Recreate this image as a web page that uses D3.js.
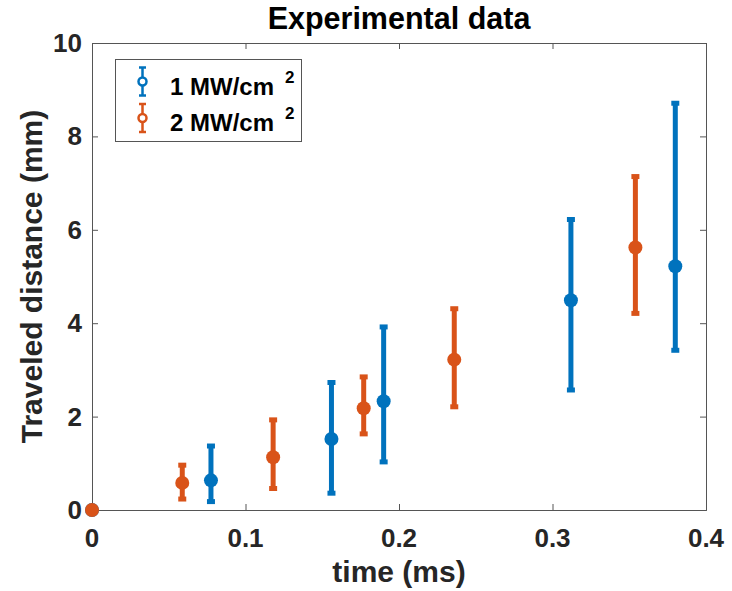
<!DOCTYPE html>
<html>
<head>
<meta charset="utf-8">
<script src="https://cdn.jsdelivr.net/npm/d3@7"></script>
<style>
  body { margin: 0; background: #fff; }
  text { font-family: "Liberation Sans", Arial, sans-serif; font-weight: bold; fill: #262626; }
</style>
</head>
<body>
<div id="chart"></div>
<script>
// values
var blueTime = [0, 0.0775, 0.156, 0.190, 0.312, 0.380];
var blueDist = [0, 0.635, 1.52, 2.33, 4.49, 5.22];
var blueLow = [0, 0.18, 0.36, 1.03, 2.57, 3.42];
var blueHigh = [0, 1.37, 2.73, 3.92, 6.22, 8.71];

var orangeTime = [0, 0.0588, 0.118, 0.177, 0.236, 0.354];
var orangeDist = [0, 0.58, 1.13, 2.18, 3.22, 5.62];
var orangeLow = [0, 0.235, 0.46, 1.63, 2.21, 4.21];
var orangeHigh = [0, 0.96, 1.93, 2.85, 4.31, 7.14];

var xTicks = [0, 0.1, 0.2, 0.3, 0.4];
var yTicks = [0, 2, 4, 6, 8, 10];
var seriesNames = ['1 MW/cm', '2 MW/cm'];
var seriesColors = ['#0072BD', '#D95319'];

var width = 732, height = 591;
var margin = { top: 43, right: 26, bottom: 81, left: 92 };
var axisColor = '#555';

var svg = d3.select('#chart').append('svg')
  .attr('width', width)
  .attr('height', height);

var x = d3.scaleLinear().domain([0, 0.4]).range([margin.left, width - margin.right]);
var y = d3.scaleLinear().domain([0, 10]).range([height - margin.bottom, margin.top]);

// box and inward ticks
var tickLen = 6;
svg.append('g')
  .attr('transform', 'translate(0,' + y(0) + ')')
  .call(d3.axisBottom(x).tickValues(xTicks).tickSize(-tickLen).tickFormat(''))
  .call(function (g) { g.selectAll('line,path').attr('stroke', axisColor); });
svg.append('g')
  .attr('transform', 'translate(0,' + y(10) + ')')
  .call(d3.axisTop(x).tickValues(xTicks).tickSize(-tickLen).tickFormat(''))
  .call(function (g) { g.selectAll('line,path').attr('stroke', axisColor); });
svg.append('g')
  .attr('transform', 'translate(' + x(0) + ',0)')
  .call(d3.axisLeft(y).tickValues(yTicks).tickSize(-tickLen).tickFormat(''))
  .call(function (g) { g.selectAll('line,path').attr('stroke', axisColor); });
svg.append('g')
  .attr('transform', 'translate(' + x(0.4) + ',0)')
  .call(d3.axisRight(y).tickValues(yTicks).tickSize(-tickLen).tickFormat(''))
  .call(function (g) { g.selectAll('line,path').attr('stroke', axisColor); });

// tick labels
svg.append('g').selectAll('text')
  .data(xTicks).enter().append('text')
  .attr('x', function (d) { return x(d); })
  .attr('y', 547)
  .attr('text-anchor', 'middle')
  .attr('font-size', 26)
  .text(function (d) { return d3.format('~g')(d); });

svg.append('g').selectAll('text')
  .data(yTicks).enter().append('text')
  .attr('x', 82)
  .attr('y', function (d) { return y(d) + 9; })
  .attr('text-anchor', 'end')
  .attr('font-size', 26)
  .text(function (d) { return d; });

// title and axis labels
svg.append('text')
  .attr('x', (x(0) + x(0.4)) / 2)
  .attr('y', 29)
  .attr('text-anchor', 'middle')
  .attr('font-size', 30.5)
  .style('fill', '#000')
  .text('Experimental data');

svg.append('text')
  .attr('x', (x(0) + x(0.4)) / 2)
  .attr('y', 582)
  .attr('text-anchor', 'middle')
  .attr('font-size', 30)
  .text('time (ms)');

svg.append('text')
  .attr('transform', 'translate(42,' + (y(0) + y(10)) / 2 + ') rotate(-90)')
  .attr('text-anchor', 'middle')
  .attr('font-size', 30)
  .text('Traveled distance (mm)');

// error bars with markers
function drawSeries(times, dist, low, high, color) {
  var pts = times.map(function (t, i) {
    return { t: t, d: dist[i], lo: low[i], hi: high[i] };
  });
  var g = svg.append('g');
  var capW = 4;
  pts.forEach(function (p) {
    var px = x(p.t);
    g.append('line')
      .attr('x1', px).attr('x2', px)
      .attr('y1', y(p.lo)).attr('y2', y(p.hi))
      .attr('stroke', color).attr('stroke-width', 5);
    [p.lo, p.hi].forEach(function (v) {
      g.append('line')
        .attr('x1', px - capW).attr('x2', px + capW)
        .attr('y1', y(v)).attr('y2', y(v))
        .attr('stroke', color).attr('stroke-width', 5);
    });
    g.append('circle')
      .attr('cx', px).attr('cy', y(p.d))
      .attr('r', 7)
      .attr('fill', color);
  });
}

drawSeries(blueTime, blueDist, blueLow, blueHigh, seriesColors[0]);
drawSeries(orangeTime, orangeDist, orangeLow, orangeHigh, seriesColors[1]);

// legend
var legend = svg.append('g');
legend.append('rect')
  .attr('x', 115.5).attr('y', 59.5)
  .attr('width', 186).attr('height', 82)
  .attr('fill', '#fff')
  .attr('stroke', axisColor).attr('stroke-width', 1);

seriesNames.forEach(function (name, i) {
  var cy = 81.5 + i * 36.5;
  var cx = 142.5;
  var color = seriesColors[i];
  legend.append('line')
    .attr('x1', cx).attr('x2', cx)
    .attr('y1', cy - 14).attr('y2', cy + 14)
    .attr('stroke', color).attr('stroke-width', 2.5);
  [cy - 14, cy + 14].forEach(function (v) {
    legend.append('line')
      .attr('x1', cx - 3.5).attr('x2', cx + 3.5)
      .attr('y1', v).attr('y2', v)
      .attr('stroke', color).attr('stroke-width', 2.5);
  });
  legend.append('circle')
    .attr('cx', cx).attr('cy', cy)
    .attr('r', 4)
    .attr('fill', '#fff')
    .attr('stroke', color).attr('stroke-width', 2.5);
  var t = legend.append('text')
    .attr('x', 170)
    .attr('y', cy + 13)
    .attr('font-size', 24)
    .style('fill', '#000');
  t.append('tspan').text(name);
  t.append('tspan')
    .attr('x', 285)
    .attr('dy', -12)
    .attr('font-size', 17)
    .text('2');
});
</script>
</body>
</html>
